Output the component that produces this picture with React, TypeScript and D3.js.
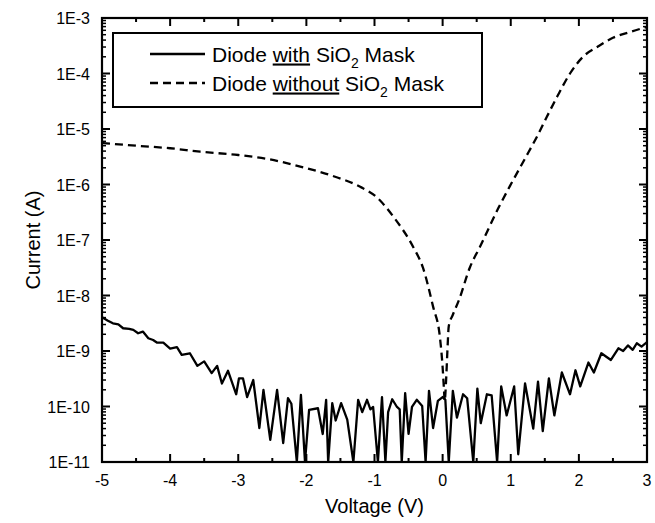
import React from "react";
import * as d3 from "d3";

const W = 655;
const H = 523;
const plot = { left: 102, right: 647, top: 18, bottom: 462 };

// Diode with SiO2 mask (solid)
const voltageWith = [
  -5.0, -4.92, -4.84, -4.76, -4.69, -4.6, -4.54, -4.47, -4.4, -4.32, -4.25, -4.19, -4.1, -4.0, -3.9, -3.83,
  -3.71, -3.6, -3.5, -3.39, -3.31, -3.24, -3.15, -3.03, -2.99, -2.93, -2.87, -2.78, -2.69, -2.63, -2.53, -2.43,
  -2.34, -2.27, -2.22, -2.14, -2.08, -2.02, -1.96, -1.83, -1.76, -1.71, -1.68, -1.62, -1.57, -1.49, -1.4, -1.31,
  -1.24, -1.18, -1.11, -1.06, -1.02, -0.95, -0.89, -0.84, -0.8, -0.74, -0.67, -0.63, -0.6, -0.55, -0.5, -0.45,
  -0.38, -0.3, -0.25, -0.2, -0.14, -0.07, 0.0, 0.04, 0.09, 0.15, 0.21, 0.3, 0.36, 0.45, 0.51, 0.56,
  0.65, 0.72, 0.8, 0.86, 0.94, 1.05, 1.11, 1.21, 1.33, 1.4, 1.47, 1.56, 1.64, 1.75, 1.87, 1.95,
  2.02, 2.14, 2.22, 2.33, 2.47, 2.58, 2.65, 2.72, 2.79, 2.85, 2.92, 3.0,
];
const currentWith = [
  4.07e-9, 3.55e-9, 3.16e-9, 3.02e-9, 2.57e-9, 2.51e-9, 2.4e-9, 2.09e-9, 2.24e-9, 1.7e-9, 1.58e-9, 1.41e-9, 1.41e-9, 1.1e-9, 1.17e-9, 8.5e-10,
  9.1e-10, 5.4e-10, 6.5e-10, 4.0e-10, 5.4e-10, 2.6e-10, 4.4e-10, 1.66e-10, 3.2e-10, 3.2e-10, 1.48e-10, 3.0e-10, 4.1e-11, 2.0e-10, 2.5e-11, 2.0e-10,
  2.2e-11, 1.41e-10, 1.12e-10, 1e-11, 1.62e-10, 1e-11, 8.7e-11, 9.3e-11, 3.2e-11, 1.32e-10, 1e-11, 1.15e-10, 5.6e-11, 1.15e-10, 5.8e-11, 1e-11,
  1.32e-10, 7.9e-11, 1.32e-10, 8.9e-11, 9.8e-11, 1e-11, 1.48e-10, 1e-11, 7.9e-11, 1.35e-10, 9.8e-11, 8.9e-11, 1e-11, 1.74e-10, 3.2e-11, 9.8e-11,
  1.32e-10, 1.02e-10, 1e-11, 1.91e-10, 4.1e-11, 1.26e-10, 1.48e-10, 1.32e-10, 1e-11, 1.91e-10, 6.3e-11, 1.66e-10, 1.41e-10, 1e-11, 2.1e-10, 5.0e-11,
  1.66e-10, 1.58e-10, 1e-11, 2.3e-10, 6.9e-11, 2.3e-10, 1.38e-11, 2.6e-10, 4.0e-11, 2.8e-10, 3.6e-11, 3.2e-10, 6.9e-11, 4.1e-10, 1.66e-10, 4.5e-10,
  2.3e-10, 6.2e-10, 4.1e-10, 9.1e-10, 6.9e-10, 1.12e-9, 1.0e-9, 1.26e-9, 1.05e-9, 1.38e-9, 1.2e-9, 1.45e-9,
];

// Diode without SiO2 mask (dashed)
const voltageWithout = [
  -5.0, -4.5, -4.0, -3.56, -3.0, -2.58, -2.09, -1.6, -1.21, -0.96, -0.72, -0.43, -0.29, -0.14, -0.04, 0.0,
  0.02, 0.03, 0.05, 0.07, 0.09, 0.15, 0.24, 0.4, 0.55, 0.82, 1.0, 1.2, 1.4, 1.53, 1.68, 1.87,
  2.06, 2.27, 2.5, 2.75, 3.0,
];
const currentWithout = [
  5.6e-6, 5.0e-6, 4.5e-6, 3.9e-6, 3.4e-6, 2.9e-6, 2.1e-6, 1.41e-6, 9.1e-7, 5.8e-7, 2.6e-7, 7.4e-8, 3.2e-8, 6.3e-9, 1.78e-9, 5.1e-10,
  2.0e-10, 1.26e-10, 2.8e-10, 1.0e-9, 2.8e-9, 4.5e-9, 8.3e-9, 3.2e-8, 7.6e-8, 3.8e-7, 1.0e-6, 2.8e-6, 7.9e-6, 1.66e-5, 3.8e-5, 1.0e-4,
  2.0e-4, 3.0e-4, 4.4e-4, 5.6e-4, 6.9e-4,
];

const xTickValues = [-5, -4, -3, -2, -1, 0, 1, 2, 3];
const xTickLabels = ["-5", "-4", "-3", "-2", "-1", "0", "1", "2", "3"];
const yTickValues = [1e-11, 1e-10, 1e-9, 1e-8, 1e-7, 1e-6, 1e-5, 1e-4, 1e-3];
const yTickLabels = ["1E-11", "1E-10", "1E-9", "1E-8", "1E-7", "1E-6", "1E-5", "1E-4", "1E-3"];

const FONT = "'Liberation Sans', Arial, Helvetica, sans-serif";

export default function App() {
  const x = d3.scaleLinear().domain([-5, 3]).range([plot.left, plot.right]);
  const y = d3.scaleLog().domain([1e-11, 1e-3]).range([plot.bottom, plot.top]);

  const solidPath = d3
    .line<[number, number]>()
    .x((d) => x(d[0]))
    .y((d) => y(d[1]))
    .curve(d3.curveLinear)(voltageWith.map((v, i) => [v, currentWith[i]] as [number, number]));

  const dashedPath = d3
    .line<[number, number]>()
    .x((d) => x(d[0]))
    .y((d) => y(d[1]))
    .curve(d3.curveMonotoneX)(voltageWithout.map((v, i) => [v, currentWithout[i]] as [number, number]));

  const xMinor = d3.range(-4.5, 3, 1);
  const yMinor: number[] = [];
  for (let e = -11; e < -3; e++) {
    for (let m = 2; m <= 9; m++) yMinor.push(m * Math.pow(10, e));
  }

  const major = 8;
  const minor = 4;

  return (
    <svg width={W} height={H} style={{ display: "block", position: "absolute", left: 0, top: 0 }}>
      <rect x={0} y={0} width={W} height={H} fill="#fff" />
      <defs>
        <clipPath id="plotclip">
          <rect x={plot.left} y={plot.top} width={plot.right - plot.left} height={plot.bottom - plot.top + 1} />
        </clipPath>
      </defs>

      <g clipPath="url(#plotclip)" fill="none" stroke="#000" strokeWidth={2.3} strokeLinejoin="round">
        <path d={solidPath || ""} />
        <path d={dashedPath || ""} strokeDasharray="8,5" />
      </g>

      <g stroke="#000" strokeWidth={2}>
        {xTickValues.map((v) => (
          <g key={"xt" + v}>
            <line x1={x(v)} x2={x(v)} y1={plot.bottom} y2={plot.bottom - major} />
            <line x1={x(v)} x2={x(v)} y1={plot.top} y2={plot.top + major} />
          </g>
        ))}
        {xMinor.map((v) => (
          <g key={"xm" + v}>
            <line x1={x(v)} x2={x(v)} y1={plot.bottom} y2={plot.bottom - minor} />
            <line x1={x(v)} x2={x(v)} y1={plot.top} y2={plot.top + minor} />
          </g>
        ))}
        {yTickValues.map((v) => (
          <g key={"yt" + v}>
            <line x1={plot.left} x2={plot.left + major} y1={y(v)} y2={y(v)} />
            <line x1={plot.right} x2={plot.right - major} y1={y(v)} y2={y(v)} />
          </g>
        ))}
      </g>
      <g stroke="#000" strokeWidth={1.5}>
        {yMinor.map((v, i) => (
          <g key={"ym" + i}>
            <line x1={plot.left} x2={plot.left + minor} y1={y(v)} y2={y(v)} />
            <line x1={plot.right} x2={plot.right - minor} y1={y(v)} y2={y(v)} />
          </g>
        ))}
      </g>

      <rect
        x={plot.left}
        y={plot.top}
        width={plot.right - plot.left}
        height={plot.bottom - plot.top}
        fill="none"
        stroke="#000"
        strokeWidth={2.2}
      />

      <g fontFamily={FONT} fontSize={16} fill="#000">
        {xTickValues.map((v, i) => (
          <text key={"xl" + v} x={x(v)} y={plot.bottom + 24} textAnchor="middle">
            {xTickLabels[i]}
          </text>
        ))}
        {yTickValues.map((v, i) => (
          <text key={"yl" + v} x={plot.left - 12} y={y(v) + 6} textAnchor="end">
            {yTickLabels[i]}
          </text>
        ))}
      </g>

      <text x={(plot.left + plot.right) / 2} y={513} textAnchor="middle" fontFamily={FONT} fontSize={20}>
        Voltage (V)
      </text>
      <text
        transform={`translate(40, ${(plot.top + plot.bottom) / 2}) rotate(-90)`}
        textAnchor="middle"
        fontFamily={FONT}
        fontSize={20}
      >
        Current (A)
      </text>

      <rect x={113} y={33} width={369} height={74} fill="#fff" stroke="#000" strokeWidth={2} />
      <line x1={150} x2={205} y1={54} y2={54} stroke="#000" strokeWidth={2.3} />
      <line x1={150} x2={205} y1={83} y2={83} stroke="#000" strokeWidth={2.3} strokeDasharray="8,5" />
      <text x={212} y={61.5} fontFamily={FONT} fontSize={21}>
        Diode <tspan textDecoration="underline">with</tspan> SiO
        <tspan fontSize={14} dy={6}>2</tspan>
        <tspan dy={-6}> Mask</tspan>
      </text>
      <text x={212} y={90.5} fontFamily={FONT} fontSize={21}>
        Diode <tspan textDecoration="underline">without</tspan> SiO
        <tspan fontSize={14} dy={6}>2</tspan>
        <tspan dy={-6}> Mask</tspan>
      </text>
    </svg>
  );
}
